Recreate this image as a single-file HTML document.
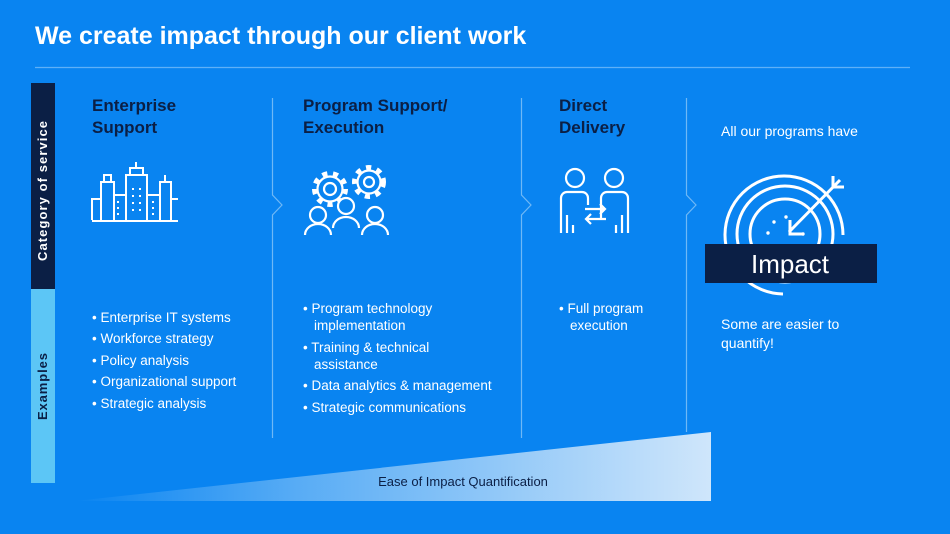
<!DOCTYPE html>
<html><head><meta charset="utf-8"><style>
html,body{margin:0;padding:0;background:#0984f1;}
svg{display:block;font-family:"Liberation Sans",sans-serif;}
</style></head><body>
<svg width="950" height="534" viewBox="0 0 950 534" xmlns="http://www.w3.org/2000/svg">
<defs>
<linearGradient id="g" x1="0" y1="0" x2="1" y2="0">
<stop offset="0" stop-color="#0984f1"/>
<stop offset="0.35" stop-color="#58acf5"/>
<stop offset="1" stop-color="#cfe6fb"/>
</linearGradient>
</defs>
<rect width="950" height="534" fill="#0984f1"/>
<text x="35" y="44" fill="#fff" font-size="25" font-weight="bold">We create impact through our client work</text>
<line x1="35" y1="67.5" x2="910" y2="67.5" stroke="#5fb0f7" stroke-width="1.2"/>

<rect x="31" y="83" width="24" height="206" fill="#0b1f45"/>
<rect x="31" y="289" width="24" height="194" fill="#5cc6f6"/>
<text transform="translate(47,261) rotate(-90)" fill="#fff" font-size="13" font-weight="bold" textLength="140">Category of service</text>
<text transform="translate(47,420) rotate(-90)" fill="#0b1f45" font-size="13" font-weight="bold" textLength="67">Examples</text>

<g stroke="#6fb8f6" stroke-width="1.2" fill="none">
<path d="M272.5 98 V195 L282 205 L272.5 215 V438"/>
<path d="M521.5 98 V195 L531 205 L521.5 215 V438"/>
<path d="M686.5 98 V195 L696 205 L686.5 215 V432"/>
</g>

<g fill="#0b1f45" font-size="17" font-weight="bold">
<text x="92" y="111">Enterprise</text><text x="92" y="133">Support</text>
<text x="303" y="111">Program Support/</text><text x="303" y="133">Execution</text>
<text x="559" y="111">Direct</text><text x="559" y="133">Delivery</text>
</g>
<text x="721" y="136" fill="#fff" font-size="14">All our programs have</text>

<!-- buildings -->
<g stroke="#fff" stroke-width="2" fill="none">
<path d="M92 220 V199 H101 V220 M101 220 V182 H114 V220 M104 182 V175 H111 V182 M114 220 V195 H126 V220 M126 220 V175 H147 V220 M130 175 V168 H143 V175 M136 168 V162 M147 220 V195 H160 V220 M160 220 V182 H171 V220 M165 182 V175 M171 199 H178 M92 221 H178"/>
</g>
<g fill="#fff">
<rect x="117" y="201" width="2" height="2"/><rect x="117" y="207" width="2" height="2"/><rect x="117" y="213" width="2" height="2"/>
<rect x="132" y="188" width="2" height="2"/><rect x="139" y="188" width="2" height="2"/>
<rect x="132" y="195" width="2" height="2"/><rect x="139" y="195" width="2" height="2"/>
<rect x="132" y="202" width="2" height="2"/><rect x="139" y="202" width="2" height="2"/>
<rect x="132" y="209" width="2" height="2"/><rect x="139" y="209" width="2" height="2"/>
<rect x="152" y="201" width="2" height="2"/><rect x="152" y="207" width="2" height="2"/><rect x="152" y="213" width="2" height="2"/>
</g>

<!-- gears + people -->
<g stroke="#fff" fill="none">
<circle cx="330" cy="189" r="15" stroke-width="6" stroke-dasharray="5 5.5"/>
<circle cx="330" cy="189" r="12.5" stroke-width="2.2"/>
<circle cx="330" cy="189" r="6" stroke-width="2.2"/>
<circle cx="369" cy="182" r="14" stroke-width="6" stroke-dasharray="5 5.5"/>
<circle cx="369" cy="182" r="11.5" stroke-width="2.2"/>
<circle cx="369" cy="182" r="5" stroke-width="2.2"/>
</g>
<g stroke="#fff" stroke-width="2.2" fill="#0984f1">
<circle cx="318" cy="215" r="8"/>
<circle cx="346" cy="206" r="8"/>
<circle cx="375" cy="215" r="8"/>
<path d="M305 235 a13 11 0 0 1 26 0 M333 228 a13 11 0 0 1 26 0 M362 235 a13 11 0 0 1 26 0" fill="none"/>
</g>

<!-- two people exchange -->
<g stroke="#fff" stroke-width="2.2" fill="none">
<circle cx="575" cy="178" r="9"/>
<circle cx="614" cy="178" r="9"/>
<path d="M561 233 V198 a6 6 0 0 1 6 -6 H582 a6 6 0 0 1 6 6 V205 M567 215 V233 M573 225 V233"/>
<path d="M628 233 V198 a6 6 0 0 0 -6 -6 H607 a6 6 0 0 0 -6 6 V218 M622 215 V233 M616 225 V233"/>
<path d="M585 209 H605 M600 204 L605 209 L600 214"/>
<path d="M606 219 H586 M591 214 L586 219 L591 224"/>
</g>

<!-- target -->
<g stroke="#fff" stroke-width="3" fill="none">
<path d="M783 294 A59 59 0 1 1 843 235" />
<circle cx="785" cy="234" r="48"/>
<circle cx="785" cy="234" r="35"/>
<path d="M789 232 L840 180 M790 220 V234 H804 M833 176 V187 H844"/>
</g>
<g fill="#fff"><circle cx="774" cy="222" r="1.7"/><circle cx="786" cy="217" r="1.7"/><circle cx="768" cy="233" r="1.7"/><circle cx="803" cy="234" r="1.7"/></g>
<rect x="705" y="244" width="172" height="39" fill="#0b1f45"/>
<text x="790" y="273" fill="#fff" font-size="26" text-anchor="middle">Impact</text>

<g fill="#fff" font-size="13.5">
<text x="92" y="322">• Enterprise IT systems</text>
<text x="92" y="343">• Workforce strategy</text>
<text x="92" y="365">• Policy analysis</text>
<text x="92" y="386">• Organizational support</text>
<text x="92" y="408">• Strategic analysis</text>
<text x="303" y="313">• Program technology</text>
<text x="314" y="330">implementation</text>
<text x="303" y="352">• Training &amp; technical</text>
<text x="314" y="369">assistance</text>
<text x="303" y="390">• Data analytics &amp; management</text>
<text x="303" y="412">• Strategic communications</text>
<text x="559" y="313">• Full program</text>
<text x="570" y="330">execution</text>
</g>
<g fill="#fff" font-size="14">
<text x="721" y="329">Some are easier to</text>
<text x="721" y="348">quantify!</text>
</g>

<polygon points="75,501 711,432 711,501" fill="url(#g)"/>
<text x="463" y="486" fill="#0b1f45" font-size="13" text-anchor="middle">Ease of Impact Quantification</text>
</svg>
</body></html>
